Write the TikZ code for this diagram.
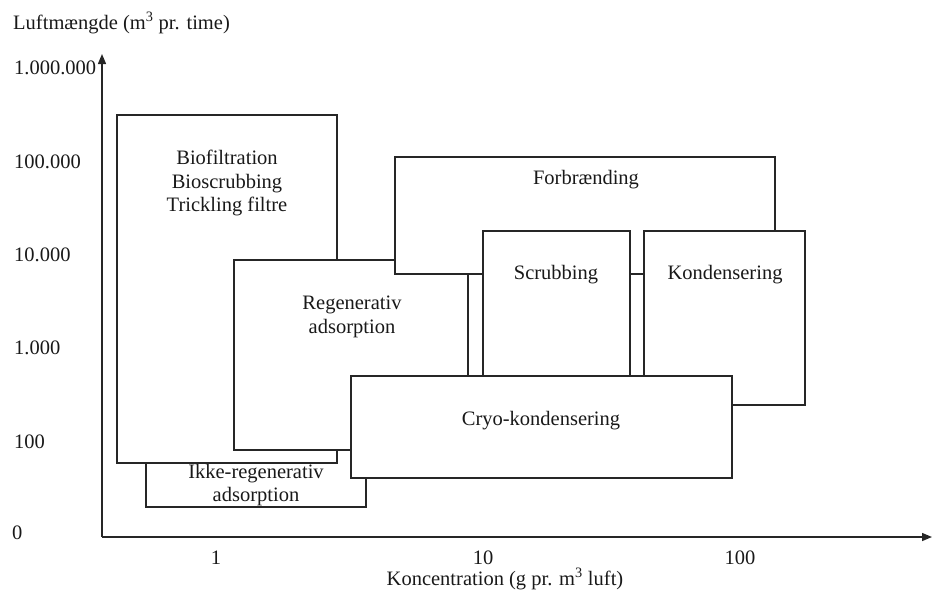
\documentclass[tikz,border=0pt]{standalone}
\usepackage{fontspec}
\setmainfont{Liberation Serif}
\usetikzlibrary{arrows.meta}
\begin{document}
\begin{tikzpicture}[x=1pt,y=-1pt,
  area/.style={draw=black!85, fill=white, line width=1.1pt, inner sep=0pt, outer sep=0pt, anchor=north west},
  lbl/.style={text=black!90, font=\fontsize{20.5}{23.5}\selectfont, inner sep=0pt, align=center},
  axis/.style={draw=black!85, line width=1.4pt, -{Triangle[length=10pt,width=8pt]}}]
\useasboundingbox (0,0) rectangle (934,590);

% axes
\coordinate (origin) at (102,537);
\coordinate (ytip) at (102,54);
\coordinate (xtip) at (932,537);
\draw[axis] (origin) -- (ytip);
\draw[axis] (origin) -- (xtip);

% axis titles and tick labels
\node[lbl, anchor=west] (ytitle) at (13,23) {Luftmængde (m\textsuperscript{3} pr. time)};
\node[lbl, anchor=west] (y6) at (14,68) {1.000.000};
\node[lbl, anchor=west] (y5) at (14,162) {100.000};
\node[lbl, anchor=west] (y4) at (14,255) {10.000};
\node[lbl, anchor=west] (y3) at (14,348) {1.000};
\node[lbl, anchor=west] (y2) at (14,442) {100};
\node[lbl, anchor=west] (y0) at (12,533) {0};
\node[lbl] (x1) at (216,558) {1};
\node[lbl] (x10) at (483,558) {10};
\node[lbl] (x100) at (740,558) {100};
\node[lbl] (xtitle) at (505,579) {Koncentration (g pr. m\textsuperscript{3} luft)};

% application areas, drawn back to front
\node[area, minimum width=220pt, minimum height=67pt] (ikke) at (146,440) {};
\node[lbl] (ikketxt) at (256,485) {Ikke-regenerativ\\adsorption};

\node[area, minimum width=220pt, minimum height=348pt] (bio) at (117,115) {};
\node[lbl] (biotxt) at (227,183) {Biofiltration\\Bioscrubbing\\Trickling filtre};

\node[area, minimum width=234pt, minimum height=190pt] (regen) at (234,260) {};
\node[lbl] (regentxt) at (352,317) {Regenerativ\\adsorption};

\node[area, minimum width=380pt, minimum height=117pt] (forb) at (395,157) {};
\node[lbl] (forbtxt) at (586,180) {Forbrænding};

\node[area, minimum width=147pt, minimum height=145pt] (scrub) at (483,231) {};
\node[lbl] (scrubtxt) at (556,275) {Scrubbing};

\node[area, minimum width=161pt, minimum height=174pt] (kond) at (644,231) {};
\node[lbl] (kondtxt) at (725,275) {Kondensering};

\node[area, minimum width=381pt, minimum height=102pt] (cryo) at (351,376) {};
\node[lbl] (cryotxt) at (541,421) {Cryo-kondensering};
\end{tikzpicture}
\end{document}
